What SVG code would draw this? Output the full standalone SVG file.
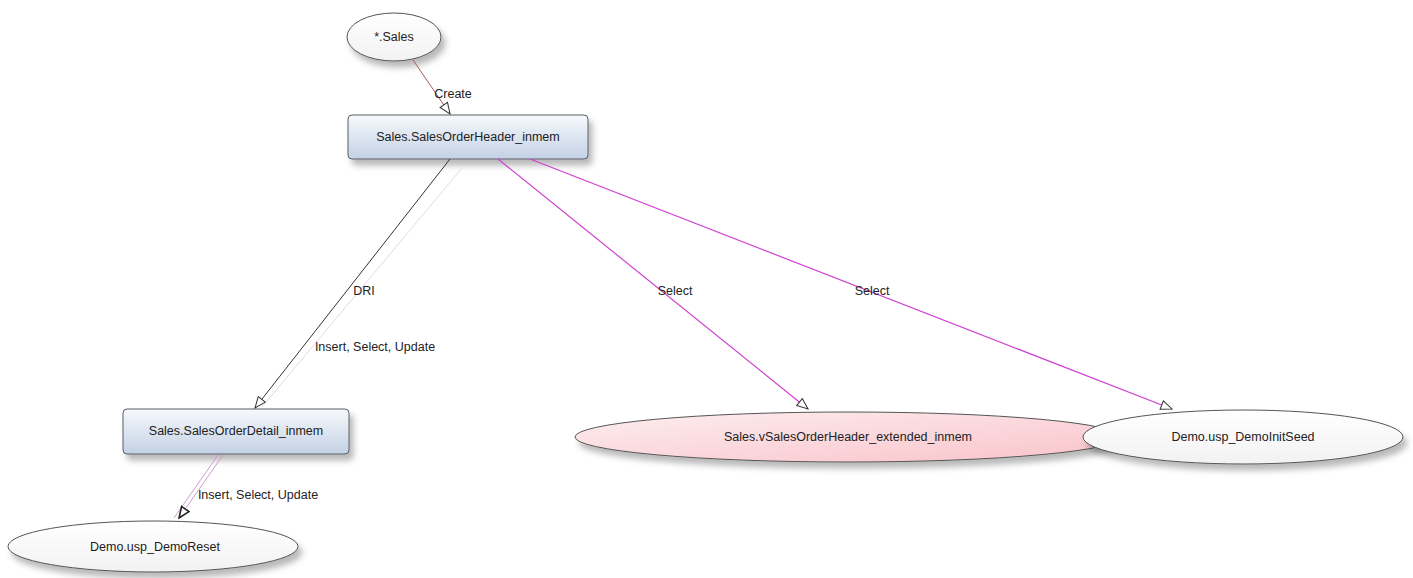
<svg xmlns="http://www.w3.org/2000/svg" width="1413" height="578" viewBox="0 0 1413 578">
<style>
text{font-family:"Liberation Sans",Arial,sans-serif;font-size:12.5px;fill:#222;text-anchor:middle}
.box{fill:url(#boxg);stroke:#5a5f66;stroke-width:1}
.ell{fill:url(#ellg);stroke:#555;stroke-width:1}
.pink{fill:url(#pinkg);stroke:#555;stroke-width:1}
.mag{stroke:#d040d0;stroke-width:1.2;fill:none}
.faint{stroke:#ecd2ec;stroke-width:1;fill:none}
.dri{stroke:#333;stroke-width:1;fill:none}
.crt{stroke:#a85a5a;stroke-width:1;fill:none}
.isu{stroke:#cf9ccf;stroke-width:1;fill:none}
</style>
<defs>
<linearGradient id="boxg" x1="0" y1="0" x2="0" y2="1">
<stop offset="0" stop-color="#f7f9fc"/>
<stop offset="1" stop-color="#c3d1e5"/>
</linearGradient>
<linearGradient id="ellg" x1="0" y1="0" x2="0" y2="1">
<stop offset="0" stop-color="#ffffff"/>
<stop offset="1" stop-color="#f2f2f2"/>
</linearGradient>
<linearGradient id="pinkg" x1="0" y1="0" x2="1" y2="1">
<stop offset="0" stop-color="#fdeef0"/>
<stop offset="1" stop-color="#f9c3ca"/>
</linearGradient>
<filter id="sh" x="-20%" y="-40%" width="140%" height="200%">
<feDropShadow dx="4" dy="6" stdDeviation="3" flood-color="#000" flood-opacity="0.28"/>
</filter>
<marker id="arr" markerUnits="userSpaceOnUse" markerWidth="13" markerHeight="11" viewBox="0 0 13 11" refX="12" refY="5.5" orient="auto">
<path d="M1,1 L12,5.5 L1,10 z" fill="#fff" stroke="#333" stroke-width="1"/>
</marker>
<marker id="arr2" markerUnits="userSpaceOnUse" markerWidth="13" markerHeight="11" viewBox="0 0 13 11" refX="12" refY="5.5" orient="auto">
<path d="M1,1 L12,5.5 L1,10 z" fill="#fff" stroke="#222" stroke-width="1.6"/>
</marker>
</defs>

<g id="node-sales">
<ellipse class="ell" cx="394" cy="37" rx="47" ry="24" filter="url(#sh)"/>
<text x="394" y="41">*.Sales</text>
</g>
<g id="node-header">
<rect class="box" x="348" y="115" width="240" height="44" rx="4" filter="url(#sh)"/>
<text x="468" y="141">Sales.SalesOrderHeader_inmem</text>
</g>
<g id="node-detail">
<rect class="box" x="123" y="409" width="226" height="45" rx="4" filter="url(#sh)"/>
<text x="236" y="435">Sales.SalesOrderDetail_inmem</text>
</g>
<g id="node-demoreset">
<ellipse class="ell" cx="153" cy="546.5" rx="145" ry="25.5" filter="url(#sh)"/>
<text x="155" y="551">Demo.usp_DemoReset</text>
</g>
<g id="node-vsales">
<ellipse class="pink" cx="848" cy="437" rx="273" ry="25" filter="url(#sh)"/>
<text x="848" y="441">Sales.vSalesOrderHeader_extended_inmem</text>
</g>
<g id="node-initseed">
<ellipse class="ell" cx="1243" cy="437" rx="160" ry="27" filter="url(#sh)"/>
<text x="1243" y="441">Demo.usp_DemoInitSeed</text>
</g>

<g id="connectors">
<line class="crt" x1="413" y1="60" x2="450" y2="114" marker-end="url(#arr)"/>
<text x="453" y="98">Create</text>
<line class="faint" x1="462" y1="168" x2="262" y2="407"/>
<line class="dri" x1="450" y1="159" x2="255" y2="408" marker-end="url(#arr)"/>
<text x="364" y="295">DRI</text>
<text x="375" y="351">Insert, Select, Update</text>
<line class="mag" x1="498" y1="159" x2="808" y2="409" marker-end="url(#arr)"/>
<text x="675" y="295">Select</text>
<line class="mag" x1="530" y1="159" x2="1172" y2="409" marker-end="url(#arr)"/>
<text x="872" y="295">Select</text>
<line class="isu" x1="218" y1="455" x2="174" y2="518"/>
<line class="isu" x1="223" y1="455" x2="179" y2="518" marker-end="url(#arr2)"/>
<text x="258" y="499">Insert, Select, Update</text>
</g>
</svg>
